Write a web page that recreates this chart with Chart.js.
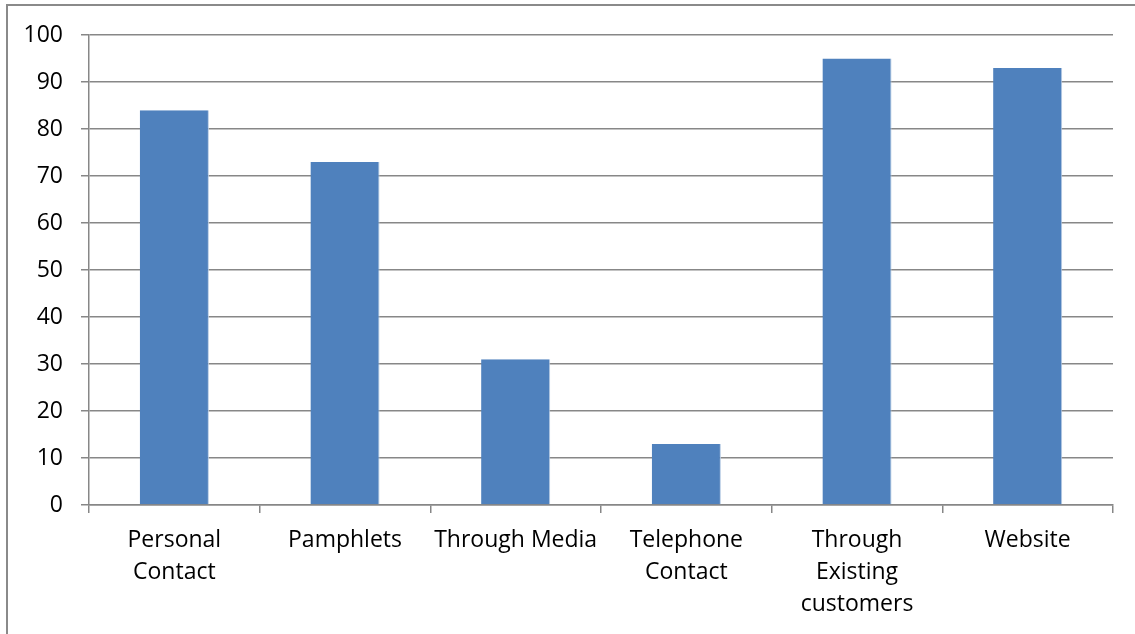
<!DOCTYPE html>
<html>
<head>
<meta charset="utf-8">
<script src="https://cdn.jsdelivr.net/npm/chart.js@4"></script>
<style>
  html, body { margin: 0; padding: 0; background: #fff; }
  #wrap { position: relative; width: 1135px; height: 634px; overflow: hidden; }
  #frame { position: absolute; left: 6px; top: 4px; width: 1140px; height: 640px;
           border-left: 2px solid #8a8a8a; border-top: 2px solid #8a8a8a; }
  canvas { position: absolute; left: 0; top: 0; }
</style>
</head>
<body>
<div id="wrap">
  <div id="frame"></div>
  <canvas id="chart" width="1135" height="634"></canvas>
</div>
<script>
  // Values
  const categories = [
    ['Personal', 'Contact'],
    'Pamphlets',
    'Through Media',
    ['Telephone', 'Contact'],
    ['Through', 'Existing', 'customers'],
    'Website'
  ];
  const values = [84, 73, 31, 13, 95, 93];
  const yTicks = [0, 10, 20, 30, 40, 50, 60, 70, 80, 90, 100];

  const gridColor = '#878787';
  const font = { family: '"Open Sans", sans-serif', size: 23, lineHeight: 1.38 };

  const ctx = document.getElementById('chart').getContext('2d');
  new Chart(ctx, {
    type: 'bar',
    data: {
      labels: categories,
      datasets: [{
        data: values,
        backgroundColor: '#4F81BD',
        borderColor: '#B9CDE5',
        borderWidth: { right: 1 },
        categoryPercentage: 1,
        barPercentage: 0.405
      }]
    },
    options: {
      responsive: false,
      animation: false,
      layout: { padding: { top: 35, right: 22, left: 0, bottom: 0 } },
      plugins: { legend: { display: false }, tooltip: { enabled: false } },
      scales: {
        x: {
          grid: { display: true, drawOnChartArea: false, offset: true, tickLength: 8, color: gridColor, lineWidth: 1.5 },
          border: { color: gridColor, width: 1.5 },
          ticks: { color: '#000', font: font, padding: 12, maxRotation: 0, autoSkip: false },
          afterFit: function(scale) { scale.height = 129; }
        },
        y: {
          min: 0,
          max: 100,
          afterBuildTicks: function(scale) { scale.ticks = yTicks.map(v => ({ value: v })); },
          grid: { color: gridColor, lineWidth: 1.5, tickLength: 8 },
          border: { color: gridColor, width: 1.5 },
          ticks: { color: '#000', font: font, padding: 18 },
          afterFit: function(scale) { scale.width = 89; }
        }
      }
    }
  });
</script>
</body>
</html>
